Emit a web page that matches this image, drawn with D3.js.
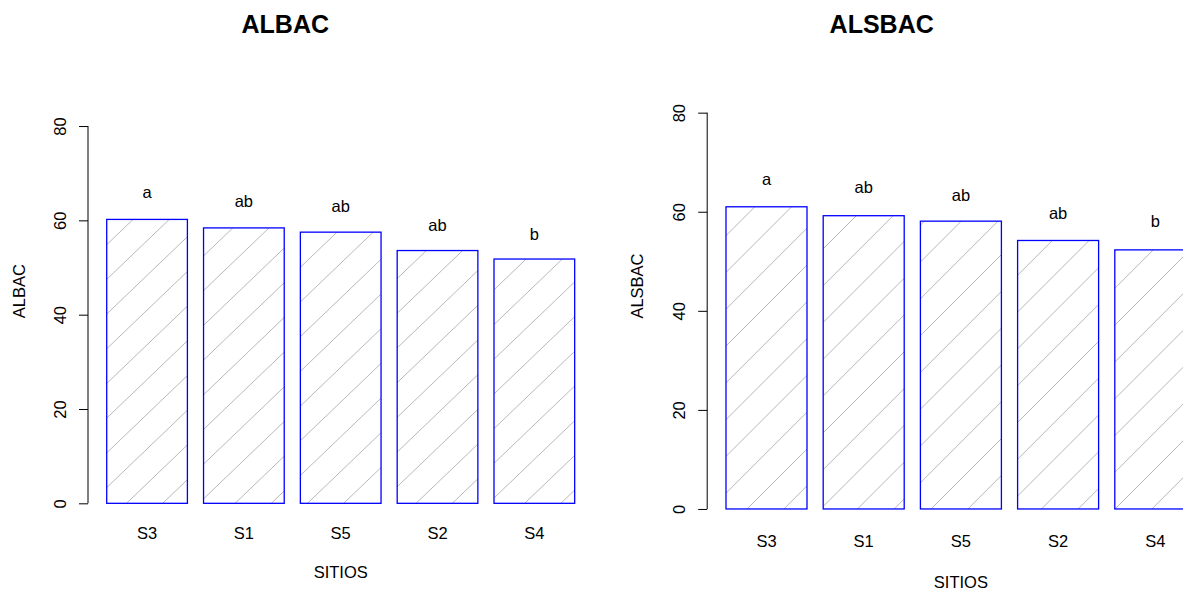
<!DOCTYPE html>
<html>
<head>
<meta charset="utf-8">
<script src="https://cdn.jsdelivr.net/npm/d3@7"></script>
<style>
  html, body { margin: 0; padding: 0; background: #fff; }
  svg { display: block; font-family: "Liberation Sans", Arial, sans-serif; }
</style>
</head>
<body>
<svg id="chart" width="1183" height="590"></svg>
<script>
// ---- data ----
const categories = ["S3", "S1", "S5", "S2", "S4"];
const albac = [60.2, 58.4, 57.5, 53.6, 51.8];
const albacLetters = ["a", "ab", "ab", "ab", "b"];
const albacLetterY = [64.7, 62.9, 61.7, 57.8, 55.8];
const alsbac = [61.0, 59.2, 58.1, 54.2, 52.3];
const alsbacLetters = ["a", "ab", "ab", "ab", "b"];
const alsbacLetterY = [65.4, 63.7, 62.2, 58.5, 56.9];
const yTicks = [0, 20, 40, 60, 80];
const yLimit = [0, 90];
const xTitle = "SITIOS";

// ---- layout ----
const FS = 16.5;
const panels = [
  { title: "ALBAC", values: albac, letters: albacLetters, letterY: albacLetterY,
    left: 88, right: 593.4, top: 61.9, bottom: 520.3,
    titleX: 285.3, titleY: 32.7, ylabX: 25, xTickY: 539.3, xlabY: 578.3,
    hatch: { W: 36.2, H: 34.7, x0: 126.5, y0: 503.3 }, id: "p1" },
  { title: "ALSBAC", values: alsbac, letters: alsbacLetters, letterY: alsbacLetterY,
    left: 707.2, right: 1214.6, top: 45.3, bottom: 526.8,
    titleX: 881.7, titleY: 32.7, ylabX: 643.3, xTickY: 547.3, xlabY: 588,
    hatch: { W: 36.8, H: 36.8, x0: 746.7, y0: 509.3 }, id: "p2" }
];

const svg = d3.select("#chart");
const defs = svg.append("defs");

panels.forEach(p => {
  const ext = (yLimit[1] - yLimit[0]) * 0.04;
  const y = d3.scaleLinear().domain([yLimit[0] - ext, yLimit[1] + ext]).range([p.bottom, p.top]);
  const x = d3.scaleBand().domain(categories).range([p.left, p.right])
    .paddingInner(1 / 6).paddingOuter(0.232 / 1.2).align(0.5);

  const g = svg.append("g");

  // clip path = union of bars
  const clip = defs.append("clipPath").attr("id", "clip-" + p.id);
  clip.selectAll("rect").data(p.values).join("rect")
    .attr("x", (d, i) => x(categories[i]))
    .attr("y", d => y(d))
    .attr("width", x.bandwidth())
    .attr("height", d => y(0) - y(d));

  // hatch lines
  const h = p.hatch;
  const yTopH = 0, yBotH = 590;
  const kMin = Math.floor((p.left - h.x0 - (h.y0 - yTopH) * h.W / h.H) / h.W) - 2;
  const kMax = Math.ceil((p.right - h.x0 + (yBotH - h.y0) * h.W / h.H) / h.W) + 2;
  const ks = d3.range(kMin, kMax + 1);
  g.append("g").attr("clip-path", "url(#clip-" + p.id + ")")
    .selectAll("line").data(ks).join("line")
    .attr("x1", k => h.x0 + k * h.W - (yBotH - h.y0) * h.W / h.H)
    .attr("y1", yBotH)
    .attr("x2", k => h.x0 + k * h.W + (h.y0 - yTopH) * h.W / h.H)
    .attr("y2", yTopH)
    .attr("stroke", "#b8b8b8").attr("stroke-width", 1);

  // bar outlines
  g.append("g").selectAll("rect").data(p.values).join("rect")
    .attr("x", (d, i) => x(categories[i]))
    .attr("y", d => y(d))
    .attr("width", x.bandwidth())
    .attr("height", d => y(0) - y(d))
    .attr("fill", "none").attr("stroke", "#0000ff").attr("stroke-width", 1.3);

  // letters
  g.append("g").selectAll("text").data(p.letters).join("text")
    .attr("x", (d, i) => x(categories[i]) + x.bandwidth() / 2)
    .attr("y", (d, i) => y(p.letterY[i]))
    .attr("text-anchor", "middle").attr("font-size", FS).attr("fill", "#000")
    .text(d => d);

  // y axis
  const yAxis = d3.axisLeft(y).tickValues(yTicks).tickSize(9).tickFormat(d3.format("d"));
  const ya = g.append("g").attr("transform", `translate(${p.left},0)`).call(yAxis);
  ya.select(".domain").remove();
  ya.selectAll(".tick line").attr("stroke", "#000");
  ya.selectAll(".tick text")
    .attr("x", null).attr("dy", null)
    .attr("transform", "translate(-22.5,0) rotate(-90)")
    .attr("text-anchor", "middle")
    .attr("font-size", FS).attr("font-family", "Liberation Sans, Arial, sans-serif").attr("fill", "#000");
  g.append("line")
    .attr("x1", p.left).attr("x2", p.left)
    .attr("y1", y(yTicks[0])).attr("y2", y(yTicks[yTicks.length - 1]))
    .attr("stroke", "#000").attr("stroke-width", 1);

  // x axis labels (no line)
  const xAxis = d3.axisBottom(x).tickSize(0);
  const xa = g.append("g").attr("transform", `translate(0,${p.xTickY})`).call(xAxis);
  xa.select(".domain").remove();
  xa.selectAll(".tick text").attr("y", 0).attr("dy", null)
    .attr("font-size", FS).attr("font-family", "Liberation Sans, Arial, sans-serif").attr("fill", "#000");

  // axis titles
  g.append("text")
    .attr("x", (p.left + p.right) / 2).attr("y", p.xlabY)
    .attr("text-anchor", "middle").attr("font-size", FS).text(xTitle);
  g.append("text")
    .attr("transform", `translate(${p.ylabX},${y((yLimit[0] + yLimit[1]) / 2)}) rotate(-90)`)
    .attr("text-anchor", "middle").attr("font-size", FS).text(p.title);

  // main title
  g.append("text")
    .attr("x", p.titleX).attr("y", p.titleY)
    .attr("text-anchor", "middle").attr("font-size", 25).attr("font-weight", "bold")
    .text(p.title);
});
</script>
</body>
</html>
